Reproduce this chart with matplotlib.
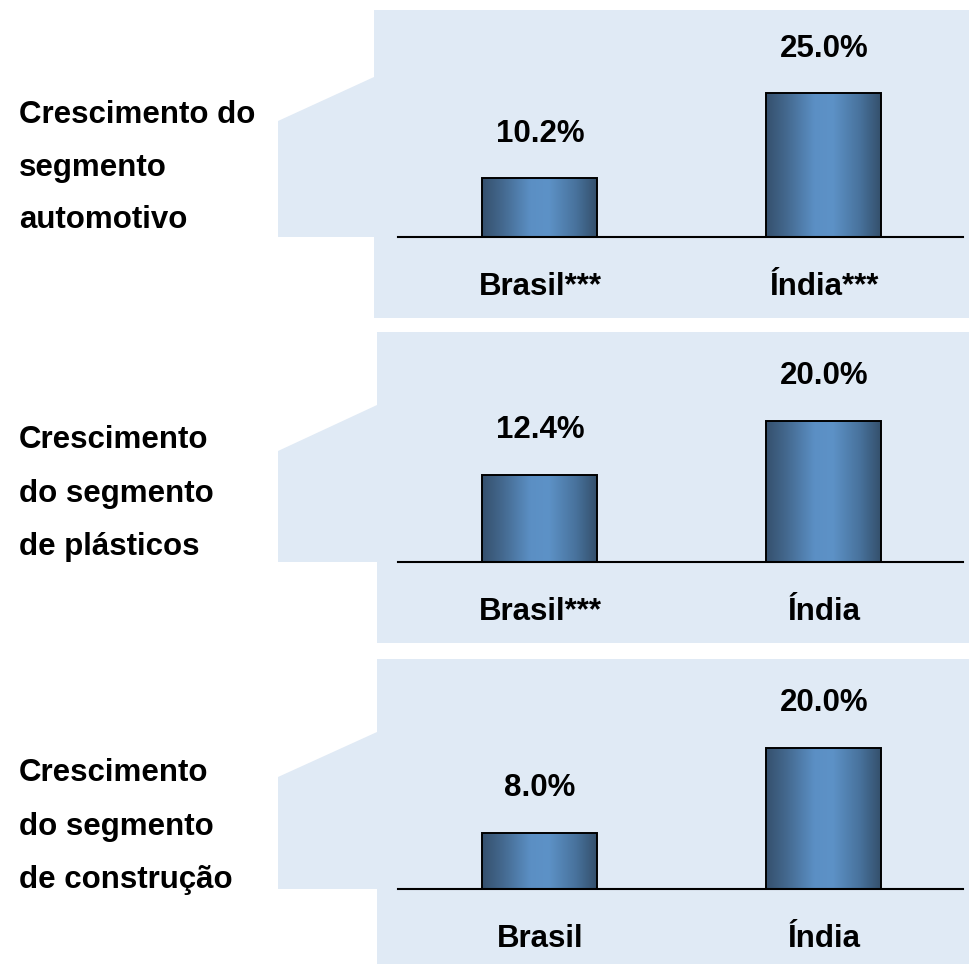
import numpy as np
import matplotlib
matplotlib.use('Agg')
import matplotlib.pyplot as plt
from matplotlib.colors import LinearSegmentedColormap
from matplotlib.patches import Polygon

# ── Data ─────────────────────────────────────────────────────────────────────
segment_labels = [
    'Crescimento do\nsegmento\nautomotivo',
    'Crescimento\ndo segmento\nde plásticos',
    'Crescimento\ndo segmento\nde construção',
]
categories = [
    ['Brasil***', 'Índia***'],
    ['Brasil***', 'Índia'],
    ['Brasil', 'Índia'],
]
values = [
    [10.2, 25.0],
    [12.4, 20.0],
    [8.0, 20.0],
]

# ── Layout (pixels, origin top-left) ─────────────────────────────────────────
W, H = 969, 966
BG = '#e0eaf5'
# panel: x0, top, bottom, callout top (right), callout top (left), baseline y
panels = [
    (374, 10, 318, 77, 121, 237),
    (377, 332, 643, 405, 451, 562),
    (377, 659, 964, 732, 777, 889),
]
CALLOUT_X = 278
AX_LEFT, AX_RIGHT = 398, 963
TEXT_Y = [(115, 168, 220), (440, 494, 547), (773, 827, 880)]

plt.rcParams['font.family'] = ['Liberation Sans', 'DejaVu Sans']
FS = 22.5

grad = LinearSegmentedColormap.from_list('bar', [
    (0.0, '#35506d'), (0.18, '#44698f'), (0.42, '#5b8fc4'),
    (0.58, '#5d92c7'), (0.82, '#48729c'), (1.0, '#34506c')])

fig = plt.figure(figsize=(W / 100, H / 100), dpi=100)
bg = fig.add_axes([0, 0, 1, 1])
bg.set_xlim(0, W)
bg.set_ylim(H, 0)
bg.axis('off')

for p, (x0, top, bot, ct, cl, base) in enumerate(panels):
    poly = [(x0, top), (W, top), (W, bot), (x0, bot), (x0, base),
            (CALLOUT_X, base), (CALLOUT_X, cl), (x0, ct)]
    bg.add_patch(Polygon(poly, closed=True, facecolor=BG, edgecolor='none'))
    for line, y in zip(segment_labels[p].split('\n'), TEXT_Y[p]):
        bg.text(19, y, line, fontsize=FS, fontweight='bold',
                ha='left', va='center')

    # bar axes
    ax = fig.add_axes([AX_LEFT / W, (H - base) / H,
                       (AX_RIGHT - AX_LEFT) / W, (base - top) / H])
    ax.patch.set_visible(False)
    vals = values[p]
    ymax = max(vals) * (1.58 if p == 0 else 1.63)
    bars = ax.bar(range(len(vals)), vals, width=0.405,
                  facecolor='none', edgecolor='black', linewidth=1.4, zorder=3)
    for b in bars:
        x, y = b.get_x(), b.get_y()
        im = ax.imshow(np.linspace(0, 1, 256).reshape(1, -1), cmap=grad,
                       extent=[x, x + b.get_width(), y, y + b.get_height()],
                       aspect='auto', zorder=2)
        im.set_clip_path(b)
    ax.set_xlim(-0.5, 1.49)
    ax.set_ylim(0, ymax)
    for i, v in enumerate(vals):
        ax.annotate(f'{v:.1f}%', (i, v), xytext=(0, 32), textcoords='offset points',
                    ha='center', va='center', fontsize=FS, fontweight='bold')
        ax.annotate(categories[p][i], (i, 0), xytext=(0, -36),
                    textcoords='offset points', ha='center', va='center',
                    fontsize=FS, fontweight='bold', annotation_clip=False)
    for s in ['top', 'right', 'left']:
        ax.spines[s].set_visible(False)
    ax.spines['bottom'].set_linewidth(1.5)
    ax.spines['bottom'].set_zorder(4)
    ax.set_xticks([])
    ax.set_yticks([])

fig.savefig('out.png', dpi=100)
